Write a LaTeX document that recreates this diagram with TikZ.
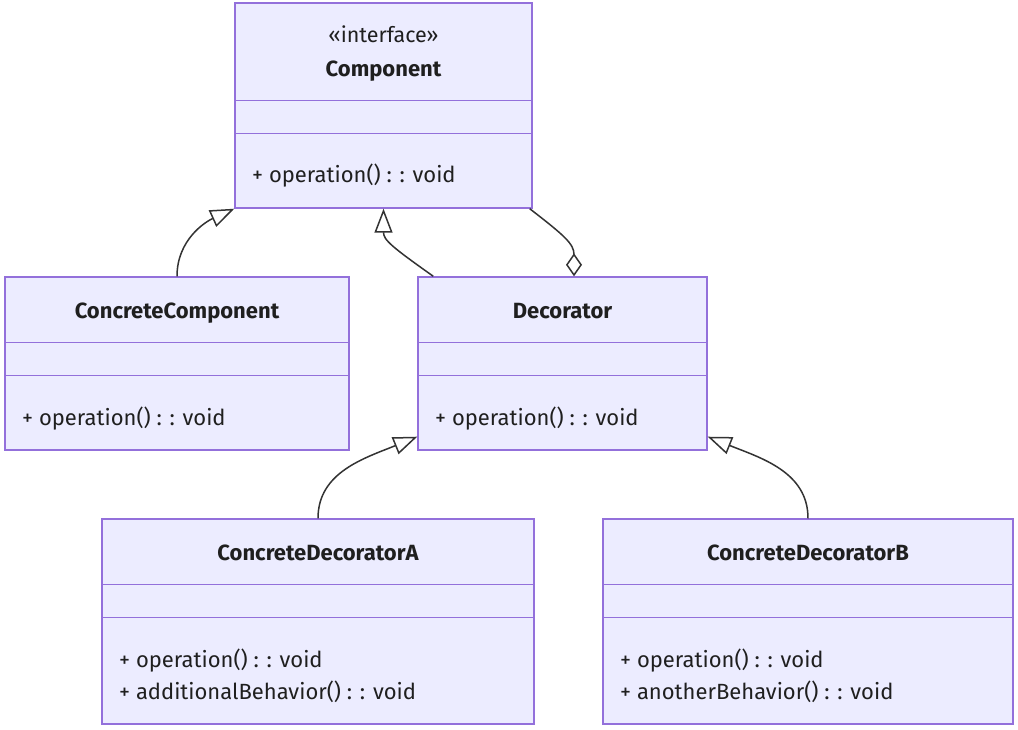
\documentclass[tikz,border=0pt]{standalone}
\usepackage{fontspec}
\setmainfont{Fira Sans}
\usetikzlibrary{arrows.meta}
\definecolor{boxfill}{HTML}{ECECFF}
\definecolor{boxline}{HTML}{9370DB}
\definecolor{linkcol}{HTML}{333333}
\definecolor{txt}{HTML}{1F1F1F}
\begin{document}
\begin{tikzpicture}[x=1pt,y=-1pt,
  umlbox/.style={draw=boxline, fill=boxfill, line width=1.4pt, inner sep=0pt, rectangle},
  sep/.style={draw=boxline, line width=1.2pt},
  title/.style={font=\fontsize{22}{26}\selectfont\bfseries, text=txt, anchor=base, inner sep=0pt},
  member/.style={font=\fontsize{22}{26}\selectfont, text=txt, anchor=base west, inner sep=0pt},
  stereo/.style={font=\fontsize{21.5}{26}\selectfont, text=txt, anchor=base, inner sep=0pt},
  link/.style={draw=linkcol, line width=1.5pt},
  inherit/.style={link, -{Triangle[open, length=24pt, width=18pt, fill=white]}},
  aggr/.style={link, -{Diamond[open, length=23pt, width=16pt, fill=white]}}
]
\useasboundingbox (0,0) rectangle (1018,730);
\fill[white] (0,0) rectangle (1018,730);

% class boxes
\node[umlbox, minimum width=297pt, minimum height=205pt] (comp) at (383.5,105.5) {};
\node[umlbox, minimum width=344pt, minimum height=173pt] (cc) at (177,363.5) {};
\node[umlbox, minimum width=289pt, minimum height=173pt] (dec) at (562.5,363.5) {};
\node[umlbox, minimum width=432pt, minimum height=205pt] (cda) at (318,621.5) {};
\node[umlbox, minimum width=410pt, minimum height=205pt] (cdb) at (808,621.5) {};

% compartment separators
\draw[sep] ([yshift=-98pt]comp.north west) -- ([yshift=-98pt]comp.north east);
\draw[sep] ([yshift=-131pt]comp.north west) -- ([yshift=-131pt]comp.north east);
\foreach \b in {cc,dec,cda,cdb}{
  \draw[sep] ([yshift=-66pt]\b.north west) -- ([yshift=-66pt]\b.north east);
  \draw[sep] ([yshift=-99pt]\b.north west) -- ([yshift=-99pt]\b.north east);
}

% texts
\node[stereo] (compst) at (383.5,43) {«interface»};
\node[title] (compt) at (383.5,77) {Component};
\node[member] (compop) at (252,183) {+ operation() : : void};

\node[title] (cct) at (177,318) {ConcreteComponent};
\node[member] (ccop) at (22,425) {+ operation() : : void};

\node[title] (dect) at (562.5,318) {Decorator};
\node[member] (decop) at (435,425) {+ operation() : : void};

\node[title] (cdat) at (318,560) {ConcreteDecoratorA};
\node[member] (cdaop1) at (119,667) {+ operation() : : void};
\node[member] (cdaop2) at (119,699) {+ additionalBehavior() : : void};

\node[title] (cdbt) at (808,560) {ConcreteDecoratorB};
\node[member] (cdbop1) at (620,667) {+ operation() : : void};
\node[member] (cdbop2) at (620,699) {+ anotherBehavior() : : void};

% relations
\draw[inherit] (cc.north) .. controls (177,240) and (205,222) .. (comp.south west);
\draw[inherit] ([xshift=16pt]dec.north west) .. controls (392,247) and (383.5,240) .. (comp.south);
\draw[aggr] ([xshift=-3pt]comp.south east) .. controls (565,236) and (574,244) .. ([xshift=11.5pt]dec.north);
\draw[inherit] (cda.north) .. controls (318,472) and (365,458) .. ([yshift=14pt]dec.south west);
\draw[inherit] (cdb.north) .. controls (808,472) and (761,458) .. ([yshift=14pt]dec.south east);
\end{tikzpicture}
\end{document}
